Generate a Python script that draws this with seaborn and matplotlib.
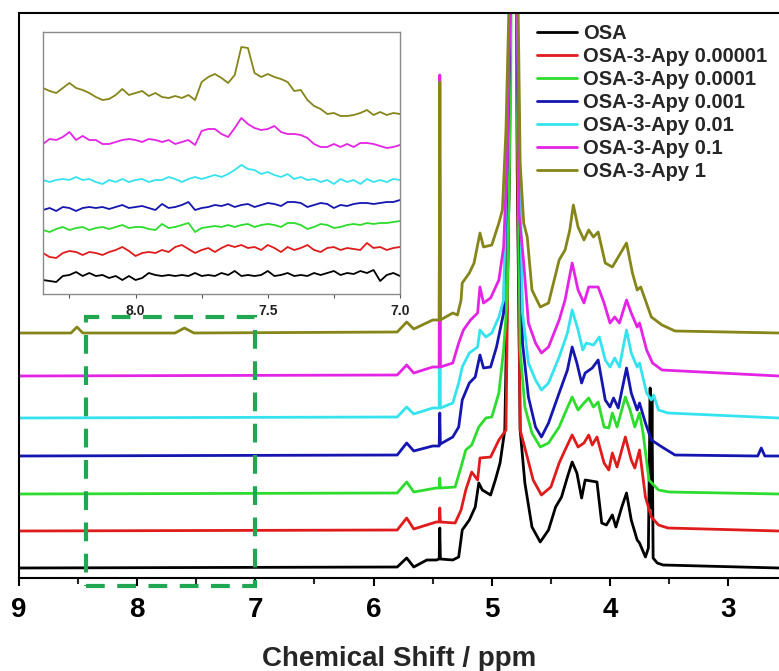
import matplotlib
matplotlib.use("Agg")
import matplotlib.pyplot as plt
import matplotlib.patches as mpatches
import seaborn as sns

# === Series names / colours ===
labels = ["OSA", "OSA-3-Apy 0.00001", "OSA-3-Apy 0.0001", "OSA-3-Apy 0.001",
          "OSA-3-Apy 0.01", "OSA-3-Apy 0.1", "OSA-3-Apy 1"]
colors = ["#000000", "#e01b1b", "#2ddc2d", "#1515b0", "#35e3ee", "#e424e4", "#85851a"]

# stacking offsets (main plot / inset)
offsets = [10, 47, 84, 122, 160, 202, 245]
inset_offsets = [16, 44, 64, 84, 112, 147, 179]

# === Main spectra (ppm, intensity) ===
ppm_osa = [9.0, 5.80, 5.72, 5.66, 5.55, 5.47, 5.445, 5.44, 5.435, 5.33, 5.28, 5.25, 5.19, 5.14,
           5.11, 5.08, 5.01, 4.97, 4.93, 4.89, 4.85, 4.81, 4.785, 4.76, 4.72, 4.66, 4.59, 4.52,
           4.46, 4.41, 4.36, 4.32, 4.28, 4.24, 4.21, 4.11, 4.07, 4.03, 3.98, 3.95, 3.90, 3.86,
           3.82, 3.77, 3.75, 3.70, 3.675, 3.66, 3.652, 3.645, 3.635, 3.60, 3.55, 2.57]
int_osa = [0, 1, 10, 1, 8, 8, 9, 40, 9, 8, 11, 38, 48, 61,
           85, 78, 73, 88, 105, 138, 400, 1200, 400, 138, 85, 41, 26, 38,
           61, 71, 91, 106, 95, 70, 88, 86, 45, 43, 53, 41, 61, 75,
           48, 28, 25, 11, 20, 180, 60, 170, 10, 5, 3, 0]

ppm_e5 = [9.0, 5.80, 5.72, 5.66, 5.47, 5.445, 5.44, 5.435, 5.31, 5.26, 5.22, 5.17, 5.12, 5.10,
          5.01, 4.94, 4.88, 4.85, 4.81, 4.785, 4.76, 4.70, 4.65, 4.58, 4.50, 4.43, 4.38, 4.32,
          4.27, 4.22, 4.18, 4.15, 4.11, 4.05, 4.01, 3.98, 3.94, 3.87, 3.82, 3.79, 3.75, 3.70,
          3.65, 3.59, 3.51, 2.57]
int_e5 = [0, 1, 13, 2, 9, 9, 23, 9, 8, 21, 41, 59, 51, 73,
          74, 91, 101, 400, 1200, 400, 101, 74, 51, 36, 44, 68, 81, 96,
          84, 88, 96, 86, 94, 68, 61, 78, 64, 94, 71, 63, 81, 34,
          14, 6, 3, 0]

ppm_e4 = [9.0, 5.80, 5.72, 5.66, 5.47, 5.445, 5.44, 5.435, 5.31, 5.26, 5.22, 5.17, 5.11, 5.05,
          5.00, 4.94, 4.90, 4.87, 4.84, 4.81, 4.785, 4.76, 4.72, 4.66, 4.59, 4.52, 4.43, 4.38,
          4.32, 4.27, 4.22, 4.18, 4.14, 4.10, 4.05, 4.01, 3.98, 3.94, 3.87, 3.83, 3.79, 3.75,
          3.72, 3.67, 3.59, 3.50, 2.57]
int_e4 = [0, 1, 12, 2, 6, 6, 16, 6, 7, 27, 44, 49, 67, 76,
          77, 101, 144, 194, 400, 1200, 400, 144, 87, 61, 47, 51, 67, 81,
          97, 84, 91, 96, 87, 92, 67, 66, 81, 67, 97, 84, 67, 81,
          61, 14, 4, 2, 0]

ppm_e3 = [9.0, 5.80, 5.72, 5.66, 5.50, 5.445, 5.44, 5.435, 5.33, 5.28, 5.25, 5.19, 5.14, 5.10,
          5.07, 5.01, 4.96, 4.90, 4.85, 4.81, 4.785, 4.74, 4.69, 4.63, 4.58, 4.52, 4.43, 4.36,
          4.32, 4.28, 4.24, 4.21, 4.15, 4.10, 4.04, 4.00, 3.97, 3.93, 3.86, 3.82, 3.77, 3.75,
          3.70, 3.65, 3.56, 3.45, 2.75, 2.72, 2.69, 2.57]
int_e3 = [0, 1, 13, 5, 10, 10, 43, 12, 19, 29, 56, 73, 79, 101,
          88, 89, 109, 143, 400, 1200, 400, 113, 59, 29, 19, 33, 63, 86,
          109, 93, 73, 83, 88, 96, 56, 49, 58, 48, 88, 63, 46, 53,
          33, 16, 9, 1, 0, 8, 0, 0]

ppm_e2 = [9.0, 5.80, 5.72, 5.66, 5.50, 5.445, 5.44, 5.435, 5.33, 5.28, 5.25, 5.19, 5.12, 5.10,
          5.05, 5.00, 4.94, 4.90, 4.85, 4.81, 4.785, 4.74, 4.69, 4.63, 4.58, 4.52, 4.43, 4.36,
          4.32, 4.27, 4.23, 4.20, 4.14, 4.09, 4.04, 4.00, 3.96, 3.92, 3.86, 3.82, 3.77, 3.75,
          3.69, 3.65, 3.63, 3.59, 3.51, 2.57]
int_e2 = [0, 1, 11, 4, 10, 10, 258, 10, 15, 35, 51, 65, 71, 88,
          81, 85, 101, 118, 400, 1200, 400, 105, 55, 38, 28, 35, 61, 85,
          108, 88, 68, 75, 73, 81, 58, 51, 60, 51, 88, 65, 51, 55,
          25, 18, 23, 8, 5, 0]

ppm_e1 = [9.0, 5.80, 5.72, 5.66, 5.50, 5.445, 5.44, 5.435, 5.33, 5.28, 5.24, 5.18, 5.12, 5.10,
          5.07, 5.01, 4.94, 4.90, 4.87, 4.84, 4.81, 4.785, 4.77, 4.73, 4.69, 4.63, 4.58, 4.52,
          4.43, 4.38, 4.32, 4.27, 4.22, 4.18, 4.10, 4.05, 4.00, 3.96, 3.92, 3.86, 3.82, 3.77,
          3.75, 3.69, 3.64, 3.56, 2.57]
int_e1 = [0, 1, 11, 3, 9, 9, 301, 9, 13, 33, 46, 56, 63, 89,
          73, 78, 96, 129, 213, 400, 1200, 400, 163, 113, 53, 33, 23, 29,
          56, 76, 113, 86, 73, 89, 89, 73, 53, 59, 53, 76, 63, 49,
          53, 26, 13, 6, 0]

ppm_one = [9.0, 8.56, 8.51, 8.46, 7.68, 7.60, 7.52, 5.80, 5.72, 5.66, 5.50, 5.445, 5.44, 5.435,
           5.33, 5.29, 5.26, 5.25, 5.19, 5.15, 5.10, 5.07, 5.00, 4.94, 4.91, 4.88, 4.84, 4.81,
           4.785, 4.76, 4.73, 4.70, 4.66, 4.59, 4.52, 4.43, 4.38, 4.34, 4.31, 4.27, 4.22, 4.18,
           4.14, 4.10, 4.04, 3.98, 3.93, 3.86, 3.81, 3.77, 3.74, 3.68, 3.65, 3.56, 3.45, 2.57]
int_one = [0, 0, 6, 0, 0, 5, 0, 1, 11, 4, 13, 13, 251, 13,
           20, 18, 33, 50, 60, 70, 100, 86, 88, 110, 123, 203, 400, 1200,
           400, 170, 110, 96, 43, 26, 30, 73, 83, 103, 128, 106, 93, 103,
           96, 101, 70, 66, 76, 90, 60, 43, 46, 26, 16, 8, 2, 0]

main_ppm = [ppm_osa, ppm_e5, ppm_e4, ppm_e3, ppm_e2, ppm_e1, ppm_one]
main_int = [int_osa, int_e5, int_e4, int_e3, int_e2, int_e1, int_one]

# === Inset (8.35 - 7.0 ppm, zoomed) ===
inset_ppm = [8.35, 8.325, 8.30, 8.275, 8.25, 8.225, 8.20, 8.175, 8.15, 8.125, 8.10, 8.075,
             8.05, 8.025, 8.00, 7.975, 7.95, 7.925, 7.90, 7.875, 7.85, 7.825, 7.80, 7.775,
             7.75, 7.725, 7.70, 7.675, 7.65, 7.625, 7.60, 7.575, 7.55, 7.525, 7.50, 7.475,
             7.45, 7.425, 7.40, 7.375, 7.35, 7.325, 7.30, 7.275, 7.25, 7.225, 7.20, 7.175,
             7.15, 7.125, 7.10, 7.075, 7.05, 7.025, 7.00]
inset_osa = [-2, -3, -4, 2, 3, 6, 2, 5, 2, 3, 0, 2, -2, 2, -2, 0, 5, 3, 2, 3, 2, 3, 2, 5,
             2, 3, 2, 5, 3, 7, 2, 3, 2, 3, 7, 2, 3, 5, 2, 3, 2, 5, 3, 5, 7, 3, 5, 4,
             7, 5, 8, -3, 3, 5, 2]
inset_e5 = [-3, -7, -8, -3, -1, -2, -5, -2, -3, -5, -2, 0, 3, -1, -6, -3, -2, -3, 0, -2, 3, 5, 1, -3,
            0, 2, -2, 2, 5, 3, 5, 2, 3, 0, 5, 2, -2, 3, 0, 2, 5, 0, -2, 2, 3, 0, 2, 1,
            0, 7, 2, 3, 0, 2, 3]
inset_e4 = [0, -2, 1, 3, 0, 2, 3, 0, 2, 3, 1, 3, 5, 2, 3, 3, 1, 0, 6, 2, 3, 5, 7, -2,
            2, 3, 4, 3, 5, 3, 5, 6, 3, 5, 6, 5, 3, 7, 7, 5, 1, 3, 6, 5, 2, 3, 5, 6,
            5, 7, 6, 7, 7, 8, 9]
inset_e3 = [0, 2, -1, 3, 2, -1, 2, 3, 2, 3, 1, 3, 5, 2, 3, 4, 2, 0, 6, 2, 3, 5, 8, 0,
            2, 3, 5, 4, 6, 3, 5, 6, 3, 5, 7, 6, 4, 8, 8, 7, 3, 5, 7, 6, 2, 5, 4, 6,
            7, 7, 6, 7, 8, 8, 10]
inset_e2 = [2, 0, 2, 3, 2, 5, 2, 3, 0, -2, 2, 0, 3, 0, 2, 3, 0, 2, 2, 5, 3, 0, 3, 5,
            3, 5, 7, 5, 8, 12, 17, 13, 12, 8, 10, 7, 5, 8, 3, 5, 2, 3, 0, 2, -2, 3, 0, 2,
            -2, 3, 0, 2, 0, 3, 2]
inset_e1 = [3, 8, 7, 10, 15, 7, 11, 7, 7, 3, 3, 5, 7, 8, 7, 5, 8, 7, 5, 7, 3, 5, 7, 2,
            16, 18, 18, 13, 10, 19, 29, 23, 19, 17, 18, 21, 15, 13, 13, 12, 9, 3, 0, 0, 3, 0, 3, 0,
            4, 4, 3, 1, -1, 0, 2]
inset_one = [27, 24, 22, 27, 32, 27, 25, 22, 18, 15, 16, 20, 26, 20, 22, 24, 19, 22, 18, 17, 19, 17, 20, 15,
             33, 38, 41, 37, 32, 40, 68, 67, 42, 38, 41, 38, 36, 33, 24, 25, 15, 9, 6, 1, 2, -1, -1, 0,
             2, 5, 0, 3, 0, 2, 1]
inset_int = [inset_osa, inset_e5, inset_e4, inset_e3, inset_e2, inset_e1, inset_one]

# === Figure ===
sns.set_style("ticks")
plt.rcParams["font.family"] = ["Liberation Sans", "DejaVu Sans"]
plt.rcParams["font.weight"] = "bold"

W, H = 779, 671
fig = plt.figure(figsize=(W / 100, H / 100), dpi=100)
ax = fig.add_axes([19 / W, 1 - 578 / H, 760 / W, 565 / H])

for x, y, off, c, lab in zip(main_ppm, main_int, offsets, colors, labels):
    sns.lineplot(x=x, y=[v + off for v in y], ax=ax, color=c, lw=2.0,
                 sort=False, estimator=None, label=lab, legend=False)

ax.set_xlim(9, 2.57)
ax.set_ylim(0, 565)
ax.set_yticks([])
ax.set_xticks([9, 8, 7, 6, 5, 4, 3])
ax.set_xticklabels(["9", "8", "7", "6", "5", "4", "3"])
ax.set_xticks([8.5, 7.5, 6.5, 5.5, 4.5, 3.5], minor=True)
ax.tick_params(axis="x", which="major", direction="out", length=6, width=1.5,
               labelsize=20, pad=8, colors="black")
ax.tick_params(axis="x", which="minor", direction="out", length=4, width=1.5)
for lbl in ax.get_xticklabels():
    lbl.set_fontweight("bold")
for s in ["left", "top", "bottom"]:
    ax.spines[s].set_linewidth(1.5)
    ax.spines[s].set_color("black")
ax.spines["right"].set_visible(False)
ax.set_xlabel("Chemical Shift / ppm", fontsize=20, fontweight="bold", labelpad=16)

# dashed box marking the zoomed region
box = mpatches.Rectangle((8.43, -8), 7.0 - 8.43, 269, fill=False, edgecolor="#1fa752",
                         lw=3, linestyle=(0, (4.5, 3)), clip_on=False, zorder=5)
ax.add_patch(box)

handles = ax.get_lines()[:len(labels)]
fig.legend(handles, labels, loc="upper left", bbox_to_anchor=(537 / W, 1 - 24 / H),
           bbox_transform=fig.transFigure, frameon=False,
           prop={"weight": "bold", "size": 14.5}, handlelength=2.0, handletextpad=0.3,
           labelspacing=0.2, borderpad=0, borderaxespad=0)

# === Inset ===
axin = fig.add_axes([43 / W, 1 - 294 / H, 357 / W, 262 / H])
axin.set_facecolor("white")
for y, off, c in zip(inset_int, inset_offsets, colors):
    sns.lineplot(x=inset_ppm, y=[v + off for v in y], ax=axin, color=c, lw=1.3,
                 sort=False, estimator=None, legend=False)
axin.set_xlim(8.35, 7.0)
axin.set_ylim(0, 262)
axin.set_yticks([])
axin.set_xticks([8.0, 7.5, 7.0])
axin.set_xticklabels(["8.0", "7.5", "7.0"])
axin.set_xticks([8.25, 7.75, 7.25], minor=True)
axin.tick_params(axis="x", which="both", direction="out", length=3, width=0.8,
                 labelsize=10, pad=4, colors="#555555", labelcolor="#222222")
for s in axin.spines.values():
    s.set_color("#8a8a8a")
    s.set_linewidth(1.0)
axin.set_xlabel("")
axin.set_ylabel("")
ax.set_ylabel("")

fig.savefig("out.png", dpi=100)
